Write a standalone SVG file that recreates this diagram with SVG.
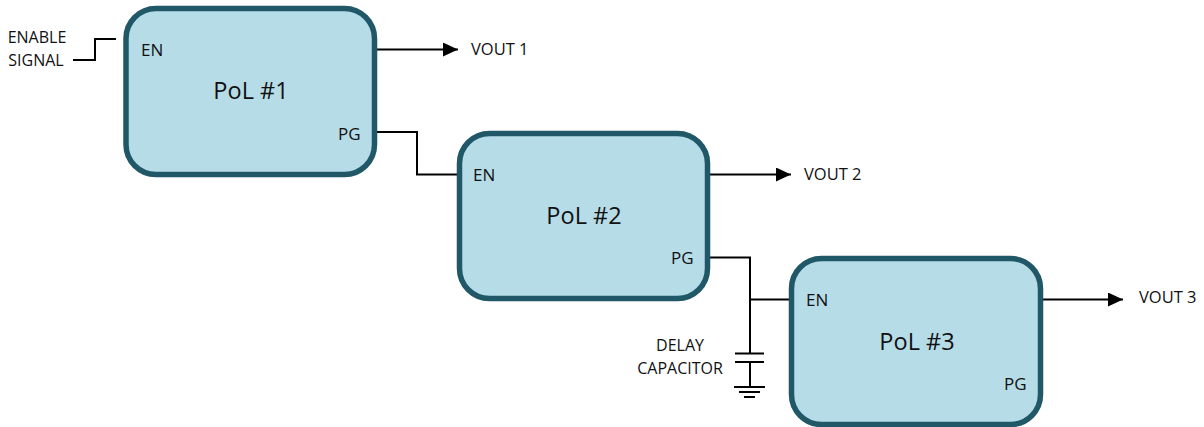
<svg xmlns="http://www.w3.org/2000/svg" width="1204" height="427" viewBox="0 0 1204 427">
<style>
.box{fill:#b6dce8;stroke:#215868;stroke-width:5.500}
.w{fill:none;stroke:#000;stroke-width:2}
text{font-family:"Open Sans","Noto Sans","Liberation Sans",sans-serif;fill:#111}
.s{font-size:16px}
.v{font-size:16.500px}
.p{font-size:17px}
.t{font-size:23.500px;text-anchor:middle}
.m{text-anchor:middle}
</style>
<defs><marker id="a" markerUnits="userSpaceOnUse" markerWidth="15" markerHeight="14" refX="15" refY="7" orient="auto"><path d="M0 0L15 7L0 14Z" fill="#000"/></marker></defs>
<g id="connectors">
<path class="w" d="M73 60H95V39H116"/>
<path class="w" marker-end="url(#a)" d="M375 49.500H458"/>
<path class="w" d="M375 132H417V174.500H459"/>
<path class="w" marker-end="url(#a)" d="M708 174.500H791"/>
<path class="w" d="M708 257.500H750V353"/>
<path class="w" d="M750 299.500H792"/>
<path class="w" marker-end="url(#a)" d="M1041 299.500H1123"/>
<path class="w" d="M735 353.500H764M735 362H764M750 362V387M734 387H765M739 392H760M744 397H755"/>
</g>
<g id="pol1"><rect class="box" x="126" y="8.500" width="248.500" height="166" rx="30"/><text class="p" x="141" y="56">EN</text><text class="p" x="338" y="140">PG</text><text class="t" x="251" y="99">PoL #1</text></g>
<g id="pol2"><rect class="box" x="459.500" y="133.500" width="248" height="165" rx="30"/><text class="p" x="473" y="181">EN</text><text class="p" x="671" y="264">PG</text><text class="t" x="584" y="224">PoL #2</text></g>
<g id="pol3"><rect class="box" x="791.500" y="258.500" width="249" height="166" rx="30"/><text class="p" x="806" y="306">EN</text><text class="p" x="1004" y="390">PG</text><text class="t" x="917" y="350">PoL #3</text></g>
<g id="enable-signal"><text class="s m" x="37" y="43">ENABLE</text><text class="s m" x="36" y="66">SIGNAL</text></g>
<g id="delay-capacitor"><text class="s m" x="680" y="351">DELAY</text><text class="s m" x="680" y="374">CAPACITOR</text></g>
<g id="vout1"><text class="v" x="471" y="55">VOUT 1</text></g>
<g id="vout2"><text class="v" x="804" y="180">VOUT 2</text></g>
<g id="vout3"><text class="v" x="1139" y="303">VOUT 3</text></g>
</svg>
